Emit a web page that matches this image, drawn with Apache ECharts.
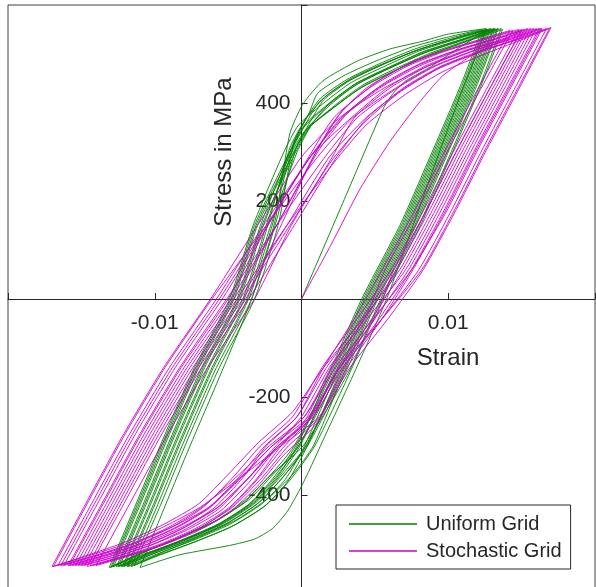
<!DOCTYPE html>
<html>
<head>
<meta charset="utf-8">
<script src="https://cdn.jsdelivr.net/npm/echarts@6/dist/echarts.min.js"></script>
<style>
html,body{margin:0;padding:0;background:#fff;}
#c{width:596px;height:587px;}
</style>
</head>
<body>
<div id="c"></div>
<script>
// Strain values are in units of 1e-3 (milli-strain); stress in MPa.
const xTicks = [-0.02, -0.01, 0, 0.01, 0.02];
const xTickLabels = ['', '-0.01', '', '0.01', ''];
const yTicks = [-600, -400, -200, 0, 200, 400, 600];
const yTickLabels = ['', '-400', '-200', '', '200', '400', ''];
const seriesNames = ['Uniform Grid', 'Stochastic Grid'];

const uniformInitial = [[0,0],[2.8,195],[5.6,390],[6.2,418],[7.1,445],[8.7,472],[10.6,510],[12.6,548]];
const uniformHalfCycles = [
  [[12.6,548],[11.0,430],[9.4,300],[7.6,150],[5.8,0],[3.6,-150],[1.5,-286],[0.6,-345],[-0.1,-388],[-1.0,-435],[-2.0,-469],[-3.2,-490],[-4.9,-503],[-8.3,-522],[-11.0,-548]],
  [[-11.0,-548],[-9.4,-430],[-7.6,-300],[-5.6,-160],[-3.4,0],[-1.8,160],[-0.8,337],[0.1,398],[1.45,445],[3.76,485],[6.0,510],[8.25,526],[9.9,540],[12.6,552]],
  [[12.6,552],[11.2,440],[9.2,300],[7.0,150],[4.4,0],[2.2,-150],[-0.1,-300],[-1.6,-365],[-3.2,-415],[-5.4,-458],[-8.0,-492],[-10.4,-520],[-12.4,-546]],
  [[-12.4,-546],[-10.6,-420],[-8.8,-290],[-6.6,-140],[-4.2,0],[-2.6,150],[-0.7,290],[0.3,345],[1.8,392],[3.6,435],[5.8,468],[8.2,500],[10.6,525],[13.0,550]],
  [[13.0,550],[11.6,440],[9.6,300],[7.4,150],[4.8,0],[2.6,-150],[0.4,-300],[-1.0,-375],[-2.6,-425],[-4.8,-465],[-7.4,-497],[-9.8,-523],[-11.8,-546]],
  [[-11.8,-546],[-10.0,-420],[-8.2,-290],[-6.0,-140],[-3.6,0],[-2.0,150],[-0.7,300],[0.3,358],[1.2,402],[3.0,442],[5.2,474],[7.6,505],[10.0,528],[12.4,548]],
  [[12.4,548],[11.0,440],[9.0,300],[6.8,150],[4.2,0],[2.0,-150],[-0.5,-300],[-2.2,-362],[-3.8,-410],[-6.0,-455],[-8.6,-490],[-11.0,-520],[-13.0,-548]],
  [[-13.0,-548],[-11.2,-420],[-9.4,-290],[-7.2,-140],[-4.8,0],[-3.2,150],[-0.8,300],[0.2,352],[2.2,405],[4.0,442],[6.2,474],[8.6,505],[11.0,528],[13.4,552]],
  [[13.4,552],[12.0,440],[10.0,300],[7.8,150],[5.2,0],[3.0,-150],[0.4,-300],[-1.4,-368],[-3.0,-418],[-5.2,-460],[-7.8,-494],[-10.2,-521],[-12.2,-546]],
  [[-12.2,-546],[-10.4,-420],[-8.6,-290],[-6.4,-140],[-4.0,0],[-2.4,150],[-0.6,315],[0.4,372],[1.7,415],[3.5,452],[5.7,482],[8.1,510],[10.5,532],[12.9,552]],
  [[12.9,552],[11.5,440],[9.5,300],[7.3,150],[4.7,0],[2.5,-150],[-0.2,-300],[-2.0,-360],[-3.6,-410],[-5.8,-452],[-8.4,-488],[-10.8,-518],[-12.8,-546]],
  [[-12.8,-546],[-11.0,-420],[-9.2,-290],[-7.0,-140],[-4.6,0],[-3.0,150],[-0.5,300],[0.5,350],[2.5,398],[4.3,436],[6.5,468],[8.9,500],[11.3,526],[13.7,550]],
  [[13.7,550],[12.3,440],[10.3,300],[8.1,150],[5.5,0],[3.3,-150],[0.9,-300],[-0.8,-370],[-2.4,-420],[-4.6,-462],[-7.2,-495],[-9.6,-522],[-11.6,-546]],
  [[-11.6,-546],[-9.8,-420],[-8.0,-290],[-5.8,-140],[-3.4,0],[-1.8,150],[-0.4,305],[0.6,362],[1.5,406],[3.3,446],[5.5,478],[7.9,508],[10.3,530],[12.7,550]],
  [[12.7,550],[11.3,440],[9.3,300],[7.1,150],[4.5,0],[2.3,-150],[-0.2,-300],[-1.8,-365],[-3.4,-415],[-5.6,-458],[-8.2,-492],[-10.6,-520],[-12.6,-546]],
  [[-12.6,-546],[-10.8,-420],[-9.0,-290],[-6.8,-140],[-4.4,0],[-2.8,150],[-0.8,300],[0.2,355],[1.9,400],[3.7,440],[5.9,472],[8.3,505],[10.7,528],[13.1,552]],
  [[13.1,552],[11.7,440],[9.7,300],[7.5,150],[4.9,0],[2.7,-150],[0.3,-300],[-1.3,-365],[-2.9,-415],[-5.1,-458],[-7.7,-492],[-10.1,-520],[-12.1,-546]],
  [[-12.1,-546],[-10.3,-420],[-8.5,-290],[-6.3,-140],[-3.9,0],[-2.3,150],[-0.8,308],[0.2,364],[1.3,410],[3.1,448],[5.3,480],[7.7,510],[10.1,532],[12.5,550]],
  [[12.5,550],[11.1,440],[9.1,300],[6.9,150],[4.3,0],[2.1,-150],[-0.4,-300],[-2.1,-372],[-3.7,-422],[-5.9,-464],[-8.5,-497],[-10.9,-522],[-12.9,-546]],
  [[-12.9,-546],[-11.1,-420],[-9.3,-290],[-7.1,-140],[-4.7,0],[-3.1,150],[-0.8,292],[0.2,342],[2.1,388],[3.9,428],[6.1,462],[8.5,496],[10.9,522],[13.3,550]],
  [[13.3,550],[11.9,440],[9.9,300],[7.7,150],[5.1,0],[2.9,-150],[0.8,-300],[-0.6,-358],[-2.2,-405],[-4.4,-450],[-7.0,-486],[-9.4,-516],[-11.4,-544]],
  [[-11.4,-544],[-9.6,-420],[-7.8,-290],[-5.6,-140],[-3.2,0],[-1.6,150],[-0.5,320],[0.5,378],[1.1,420],[2.9,456],[5.1,486],[7.5,514],[9.9,534],[12.3,550]],
  [[12.3,550],[10.9,440],[8.9,300],[6.7,150],[4.1,0],[1.9,-150],[-0.3,-300],[-1.7,-365],[-3.3,-415],[-5.5,-458],[-8.1,-492],[-10.5,-520],[-12.5,-546]],
  [[-12.5,-546],[-10.7,-420],[-8.9,-290],[-6.7,-140],[-4.3,0],[-2.7,150],[-0.4,300],[0.6,352],[2.4,398],[4.2,437],[6.4,470],[8.8,502],[11.2,527],[13.6,552]],
  [[13.6,552],[12.2,440],[10.2,300],[8.0,150],[5.4,0],[3.2,-150],[0.1,-300],[-2.3,-365],[-3.9,-415],[-6.1,-458],[-8.7,-492],[-11.1,-520],[-13.1,-548]],
  [[-13.1,-548],[-11.3,-420],[-9.5,-290],[-7.3,-140],[-4.9,0],[-3.3,150],[-1.2,300],[-0.2,355],[1.6,402],[3.4,442],[5.6,474],[8.0,506],[10.4,529],[12.8,550]],
  [[12.8,550],[11.4,440],[9.4,300],[7.2,150],[4.6,0],[2.4,-150],[0.2,-300],[-1.1,-368],[-2.7,-418],[-4.9,-460],[-7.5,-494],[-9.9,-521],[-11.9,-546]],
  [[-11.9,-546],[-10.1,-420],[-8.3,-290],[-6.1,-140],[-3.7,0],[-2.1,150],[-0.3,300],[0.7,356],[2.0,402],[3.8,441],[6.0,473],[8.4,505],[10.8,528],[13.2,552]],
  [[13.2,552],[11.8,440],[9.8,300],[7.6,150],[5.0,0],[2.8,-150],[0.3,-300],[-1.5,-365],[-3.1,-415],[-5.3,-458],[-7.9,-492],[-10.3,-520],[-12.3,-546]]
];

const stochasticInitial = [[0,0],[2.0,110],[4.0,225],[6.0,320],[8.0,400],[9.6,455],[11.5,495],[13.5,525],[15.0,548]];
const stochasticHalfCycles = [
  [[15.0,548],[12.8,428],[10.6,304],[8.5,180],[6.3,60],[5.0,-40],[2.6,-140],[0.7,-240],[-1.3,-305],[-3.0,-368],[-4.8,-425],[-6.8,-465],[-9.3,-500],[-11.8,-525],[-14.0,-544]],
  [[-14.0,-544],[-11.6,-412],[-9.2,-280],[-6.4,-140],[-3.2,0],[-0.7,150],[2.1,290],[3.6,370],[6.0,430],[8.6,475],[11.4,508],[13.8,530],[15.8,552]],
  [[15.8,552],[13.6,428],[11.4,304],[9.3,180],[7.1,60],[4.5,-40],[2.1,-140],[0.2,-240],[-2.0,-300],[-4.2,-365],[-6.2,-425],[-8.4,-465],[-11.0,-500],[-13.6,-525],[-15.8,-544]],
  [[-15.8,-544],[-13.4,-412],[-11.0,-280],[-8.2,-140],[-5.0,0],[-2.3,150],[0.5,290],[2.2,370],[4.6,430],[7.2,475],[10.0,508],[12.4,530],[14.4,548]],
  [[14.4,548],[12.2,428],[10.0,304],[7.9,180],[5.7,60],[4.3,-40],[1.9,-140],[0.0,-240],[-1.9,-305],[-3.7,-368],[-5.5,-425],[-7.6,-465],[-10.1,-500],[-12.6,-525],[-14.8,-544]],
  [[-14.8,-544],[-12.4,-412],[-10.0,-280],[-7.2,-140],[-4.0,0],[-0.8,150],[2.0,280],[4.2,358],[6.6,420],[9.2,468],[12.0,502],[14.4,528],[16.4,552]],
  [[16.4,552],[14.2,428],[12.0,304],[9.9,180],[7.5,60],[4.9,-40],[2.3,-140],[0.2,-240],[-2.2,-300],[-4.5,-365],[-6.8,-425],[-9.0,-465],[-11.6,-500],[-14.2,-525],[-16.6,-544]],
  [[-16.6,-544],[-14.2,-412],[-11.8,-280],[-9.0,-140],[-5.8,0],[-2.6,150],[0.6,290],[2.8,370],[5.3,430],[8.0,475],[10.8,508],[13.2,530],[15.2,550]],
  [[15.2,550],[13.0,428],[10.8,304],[8.7,180],[6.5,60],[4.3,-40],[2.0,-140],[0.2,-250],[-1.9,-312],[-3.6,-375],[-5.5,-432],[-7.7,-470],[-10.3,-503],[-12.8,-527],[-15.0,-544]],
  [[-15.0,-544],[-12.6,-412],[-10.2,-280],[-7.4,-140],[-4.2,0],[-1.0,150],[1.9,290],[4.4,370],[7.0,430],[9.6,475],[12.5,508],[15.0,532],[17.0,554]],
  [[17.0,554],[14.8,428],[12.6,304],[10.5,180],[8.3,60],[5.9,-40],[3.3,-140],[1.2,-240],[-1.4,-300],[-4.2,-365],[-6.9,-425],[-9.4,-465],[-12.0,-500],[-14.6,-525],[-17.0,-546]],
  [[-17.0,-546],[-14.6,-412],[-12.2,-280],[-9.4,-140],[-6.2,0],[-3.0,150],[0.0,290],[2.6,370],[5.6,430],[8.6,475],[11.4,508],[14.0,530],[16.0,552]],
  [[16.0,552],[13.8,428],[11.6,304],[9.5,180],[7.3,60],[5.0,-40],[2.6,-140],[0.6,-240],[-1.6,-300],[-3.6,-365],[-5.7,-425],[-7.9,-465],[-10.5,-500],[-13.1,-525],[-15.4,-544]],
  [[-15.4,-544],[-13.0,-412],[-10.6,-280],[-7.8,-140],[-4.6,0],[-1.7,150],[1.0,300],[2.8,385],[5.1,442],[7.6,485],[10.4,512],[12.8,532],[14.8,550]],
  [[14.8,550],[12.6,428],[10.4,304],[8.3,180],[6.1,60],[3.8,-40],[1.4,-140],[-0.6,-240],[-2.8,-300],[-4.7,-365],[-6.7,-425],[-8.8,-465],[-11.4,-500],[-14.0,-525],[-16.2,-544]],
  [[-16.2,-544],[-13.8,-412],[-11.4,-280],[-8.6,-140],[-5.4,0],[-2.3,150],[0.6,290],[3.4,370],[5.8,430],[8.4,475],[11.2,508],[13.6,530],[15.6,552]],
  [[15.6,552],[13.4,428],[11.2,304],[9.1,180],[6.9,60],[4.8,-40],[2.5,-140],[0.7,-240],[-1.4,-300],[-3.0,-365],[-4.9,-425],[-7.0,-465],[-9.6,-500],[-12.2,-525],[-14.4,-544]],
  [[-14.4,-544],[-12.0,-412],[-9.6,-280],[-6.8,-140],[-3.6,0],[-0.5,150],[2.4,290],[4.5,370],[6.9,430],[9.5,475],[12.3,508],[14.7,530],[16.7,552]],
  [[16.7,552],[14.5,428],[12.3,304],[10.2,180],[8.0,60],[5.5,-40],[2.8,-140],[0.8,-240],[-1.6,-300],[-3.6,-365],[-5.7,-425],[-8.1,-465],[-10.8,-500],[-13.4,-525],[-15.6,-544]],
  [[-15.6,-544],[-13.2,-412],[-10.8,-280],[-8.0,-140],[-4.8,0],[-1.7,150],[1.1,300],[3.2,382],[5.6,440],[8.2,482],[11.0,512],[13.4,532],[15.4,552]],
  [[15.4,552],[13.2,428],[11.0,304],[8.9,180],[6.7,60],[4.2,-40],[1.5,-140],[-0.6,-230],[-2.9,-292],[-4.9,-355],[-7.0,-418],[-9.4,-460],[-12.1,-497],[-14.7,-524],[-16.9,-546]],
  [[-16.9,-546],[-14.5,-412],[-12.1,-280],[-9.3,-140],[-6.1,0],[-2.4,150],[1.1,290],[3.5,370],[6.4,430],[9.0,475],[11.8,508],[14.2,530],[16.2,552]],
  [[16.2,552],[14.0,428],[11.8,304],[9.7,180],[7.5,60],[5.3,-40],[2.9,-140],[1.0,-255],[-1.2,-318],[-3.0,-382],[-5.0,-438],[-7.2,-475],[-9.8,-506],[-12.4,-528],[-14.6,-546]],
  [[-14.6,-546],[-12.2,-412],[-9.8,-280],[-7.0,-140],[-3.8,0],[-1.4,150],[0.8,290],[2.4,370],[4.4,430],[7.0,475],[9.8,508],[12.2,530],[14.2,548]],
  [[14.2,548],[12.0,428],[9.8,304],[7.7,180],[5.5,60],[3.6,-40],[1.5,-140],[-0.3,-240],[-2.4,-300],[-4.0,-365],[-5.9,-425],[-7.9,-465],[-10.4,-500],[-13.0,-525],[-15.2,-544]],
  [[-15.2,-544],[-12.8,-412],[-10.4,-280],[-7.6,-140],[-4.4,0],[-1.0,150],[2.2,278],[4.4,355],[7.1,418],[9.7,465],[12.5,500],[14.9,528],[16.9,552]],
  [[16.9,552],[14.7,428],[12.5,304],[10.4,180],[8.2,60],[5.5,-40],[2.6,-140],[0.5,-240],[-2.0,-300],[-4.1,-365],[-6.3,-425],[-8.8,-465],[-11.6,-500],[-14.2,-525],[-16.4,-544]],
  [[-16.4,-544],[-14.0,-412],[-11.6,-280],[-8.8,-140],[-5.6,0],[-2.4,150],[0.6,290],[2.7,370],[5.2,430],[7.8,475],[10.6,508],[13.0,530],[15.0,550]],
  [[15.0,550],[12.8,428],[10.6,304],[8.5,180],[6.3,60],[4.1,-40],[1.7,-140],[-0.3,-240],[-2.5,-300],[-4.3,-365],[-6.3,-425],[-8.5,-465],[-11.1,-500],[-13.7,-525],[-15.9,-544]],
  [[-15.9,-544],[-13.5,-412],[-11.1,-280],[-8.3,-140],[-5.1,0],[-1.7,150],[1.6,290],[3.8,370],[6.5,430],[9.1,475],[11.9,508],[14.3,530],[16.3,552]],
  [[16.3,552],[14.1,428],[11.9,304],[9.8,180],[7.6,60],[5.5,-40],[3.1,-140],[1.3,-240],[-0.9,-300],[-2.7,-365],[-4.7,-425],[-6.8,-465],[-9.4,-500],[-12.0,-525],[-14.2,-544]]
];

function toPath(initial, halves) {
  const pts = initial.concat(...halves);
  return pts.map(p => [p[0] / 1000, p[1]]);
}

const FONT = '"Liberation Sans", Arial, Helvetica, sans-serif';
const TXT = '#262626';
const GRID = {left: 8, top: 5, width: 587, height: 588};

const chart = echarts.init(document.getElementById('c'), null, {renderer: 'canvas'});
chart.setOption({
  animation: false,
  backgroundColor: '#ffffff',
  grid: Object.assign({show: true, borderColor: '#404040', borderWidth: 1, backgroundColor: 'transparent',
    containLabel: false, outerBoundsMode: 'none'}, GRID),
  xAxis: {
    type: 'value', min: xTicks[0], max: xTicks[xTicks.length - 1], interval: 0.01,
    position: 'bottom', offset: -GRID.height / 2,
    axisLine: {onZero: false, lineStyle: {color: TXT, width: 1}},
    axisTick: {inside: true, length: 6, lineStyle: {color: TXT}},
    axisLabel: {
      margin: 14, fontSize: 21, color: TXT, fontFamily: FONT, showMinLabel: true, showMaxLabel: true,
      formatter: v => { const i = xTicks.findIndex(t => Math.abs(t - v) < 1e-9); return i >= 0 ? xTickLabels[i] : ''; }
    },
    splitLine: {show: false}
  },
  yAxis: {
    type: 'value', min: yTicks[0], max: yTicks[yTicks.length - 1], interval: 200,
    position: 'left', offset: -GRID.width / 2,
    axisLine: {onZero: false, lineStyle: {color: TXT, width: 1}},
    axisTick: {inside: true, length: 6, lineStyle: {color: TXT}},
    axisLabel: {
      margin: 11, fontSize: 21, color: TXT, fontFamily: FONT,
      formatter: v => { const i = yTicks.findIndex(t => Math.abs(t - v) < 1e-6); return i >= 0 ? yTickLabels[i] : ''; }
    },
    splitLine: {show: false}
  },
  legend: {
    orient: 'vertical', left: 336, top: 505,
    padding: [9, 9, 8, 13], itemGap: 7, itemWidth: 68, itemHeight: 1.5, icon: 'rect',
    backgroundColor: '#ffffff', borderColor: TXT, borderWidth: 1,
    textStyle: {fontSize: 20, color: TXT, fontFamily: FONT, lineHeight: 20, padding: [0, 0, 0, 4]},
    data: seriesNames
  },
  graphic: [
    {type: 'text', x: 448, y: 358, style: {text: 'Strain', font: '24px ' + FONT, fill: TXT, textAlign: 'center', textVerticalAlign: 'middle'}},
    {type: 'text', x: 224, y: 152, rotation: Math.PI / 2, style: {text: 'Stress in MPa', font: '24px ' + FONT, fill: TXT, textAlign: 'center', textVerticalAlign: 'middle'}}
  ],
  series: [
    {name: seriesNames[0], type: 'line', data: toPath(uniformInitial, uniformHalfCycles), symbol: 'none', showSymbol: false, smooth: 0.2,
     lineStyle: {color: '#008000', width: 0.9}, itemStyle: {color: '#008000'}, silent: true},
    {name: seriesNames[1], type: 'line', data: toPath(stochasticInitial, stochasticHalfCycles), symbol: 'none', showSymbol: false, smooth: 0.2,
     lineStyle: {color: '#cc00cc', width: 0.9}, itemStyle: {color: '#cc00cc'}, silent: true}
  ]
});
</script>
</body>
</html>
